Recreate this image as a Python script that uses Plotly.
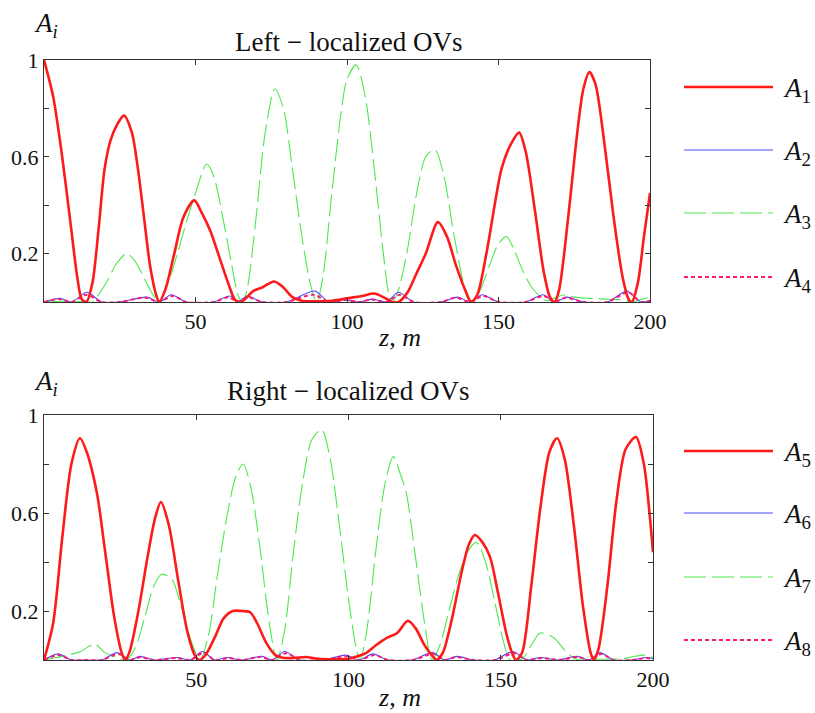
import plotly.graph_objects as go

# ---------------- data ----------------
z_a1 = [0, 3, 6, 9, 11, 12.5, 14, 16, 18, 20, 22, 24, 26.4, 29, 31, 33, 35, 37, 38,
        40, 43, 46, 49.6, 52, 55, 58, 61, 63, 65, 67, 69, 72, 76, 79, 82, 85, 90, 95,
        100, 105, 109, 112, 115, 117, 120, 123, 126, 130, 133, 136, 139, 141, 143, 146,
        149, 151, 154, 156.8, 159, 162, 165, 167, 168.5, 170, 173, 176, 178, 180, 182,
        185, 188, 191, 193, 194, 196, 198, 200]
a1 = [1.0, 0.85, 0.6, 0.3, 0.1, 0.01, 0.0, 0.08, 0.3, 0.55, 0.67, 0.73, 0.77, 0.7, 0.55,
      0.35, 0.15, 0.03, 0.0, 0.05, 0.2, 0.35, 0.42, 0.37, 0.29, 0.18, 0.07, 0.01, 0.0,
      0.02, 0.045, 0.06, 0.085, 0.06, 0.02, 0.005, 0.003, 0.005, 0.015, 0.025, 0.035,
      0.02, 0.0, 0.0, 0.04, 0.12, 0.2, 0.33, 0.27, 0.15, 0.05, 0.0, 0.03, 0.2, 0.42,
      0.55, 0.65, 0.70, 0.62, 0.38, 0.12, 0.02, 0.0, 0.05, 0.35, 0.7, 0.88, 0.95, 0.9,
      0.65, 0.35, 0.1, 0.01, 0.0, 0.08, 0.27, 0.45]

z_a2 = [0, 5.3, 9, 14.2, 19, 25, 34, 38, 42, 47, 56, 61.4, 64, 67, 72, 80, 89.4, 94, 99,
        104, 108.6, 113, 117, 122, 131, 136.6, 140.5, 144.6, 150, 159, 164.7, 168.5,
        172.6, 178, 186, 192.4, 197, 200]
a2 = [0, 0.015, 0, 0.04, 0, 0, 0.02, 0, 0.03, 0, 0, 0.025, 0, 0.025, 0, 0, 0.045, 0,
      0.01, 0, 0.012, 0, 0.04, 0, 0, 0.02, 0, 0.03, 0, 0, 0.03, 0, 0.02, 0, 0, 0.045,
      0, 0.005]

z_a3 = [0, 5, 10, 13, 16, 18, 21, 24, 27.3, 30, 33, 36, 38, 41, 44, 47, 50, 53.7, 56,
        59, 62, 64, 65.5, 67, 70, 73, 76.2, 79, 82, 85, 88, 90, 92, 95, 98, 100, 103,
        106, 109, 112, 114, 115, 117, 120, 123, 126, 129, 132, 135, 138, 140, 141.5,
        144, 147, 150, 152.7, 155, 158, 161, 164, 166, 169, 172, 175, 180, 185, 190,
        194, 197, 200]
a3 = [0.0, 0.003, 0.003, 0.0, 0.0, 0.03, 0.09, 0.16, 0.2, 0.17, 0.1, 0.03, 0.0, 0.08,
      0.2, 0.33, 0.45, 0.57, 0.52, 0.35, 0.15, 0.03, 0.0, 0.05, 0.35, 0.7, 0.88, 0.8,
      0.55, 0.28, 0.07, 0.0, 0.1, 0.45, 0.78, 0.92, 0.98, 0.85, 0.55, 0.2, 0.02, 0.0,
      0.05, 0.22, 0.45, 0.6, 0.63, 0.52, 0.3, 0.1, 0.01, 0.0, 0.05, 0.15, 0.24, 0.27,
      0.22, 0.13, 0.06, 0.02, 0.005, 0.02, 0.03, 0.02, 0.015, 0.012, 0.01, 0.0, 0.01,
      0.02]

z_a4 = [0, 5.0, 9, 14.0, 19, 25, 33.5, 38, 42.5, 47, 56, 61.0, 64, 67.5, 72, 80, 89.0,
        94, 99.5, 104, 108.0, 113, 117.5, 122, 131, 136.0, 140.5, 145.0, 150, 159,
        165.0, 168.5, 172.0, 178, 186, 192.8, 197, 200]
a4 = [0, 0.012, 0, 0.03, 0, 0, 0.018, 0, 0.025, 0, 0, 0.02, 0, 0.02, 0, 0, 0.03, 0,
      0.008, 0, 0.01, 0, 0.03, 0, 0, 0.018, 0, 0.025, 0, 0, 0.025, 0, 0.018, 0, 0,
      0.04, 0, 0.005]

z_a5 = [0, 3, 6, 9, 11.8, 14, 17.4, 20, 23, 25.5, 26.6, 28, 31, 34, 36.5, 38.4, 41, 44,
        47, 49.5, 51, 53, 56, 59, 62, 65, 67.7, 70, 73, 76, 78, 82, 86, 90, 95, 100,
        103, 106, 109, 112.6, 116, 119.5, 122, 125, 128, 129, 131, 134, 137, 139.5,
        141.5, 144, 146.5, 149, 152, 154, 155, 157, 160, 163, 166, 168.5, 171, 174,
        177, 179.5, 180.5, 182, 185, 188, 191, 194.4, 197, 199, 200]
a5 = [0.0, 0.15, 0.5, 0.8, 0.905, 0.85, 0.68, 0.45, 0.18, 0.03, 0.0, 0.03, 0.2, 0.42,
      0.58, 0.645, 0.55, 0.33, 0.12, 0.02, 0.0, 0.02, 0.09, 0.17, 0.2, 0.2, 0.195,
      0.15, 0.07, 0.02, 0.01, 0.008, 0.012, 0.005, 0.003, 0.005, 0.015, 0.03, 0.06,
      0.09, 0.11, 0.16, 0.13, 0.06, 0.01, 0.0, 0.03, 0.17, 0.35, 0.47, 0.51, 0.48,
      0.42, 0.28, 0.1, 0.02, 0.0, 0.03, 0.3, 0.62, 0.85, 0.905, 0.82, 0.55, 0.22,
      0.03, 0.0, 0.04, 0.3, 0.65, 0.86, 0.91, 0.8, 0.58, 0.44]

z_a6 = [0, 4.6, 9, 14, 19, 24, 28, 31.5, 36, 43.7, 48, 52, 56, 60, 65, 71.6, 75, 79,
        84, 92, 99, 103.5, 108, 113, 121, 127.6, 131.5, 135.6, 141, 148, 154, 158.5,
        163, 169, 175, 179, 182.6, 187, 193, 198, 200]
a6 = [0, 0.025, 0, 0, 0, 0.03, 0, 0.015, 0, 0.01, 0, 0.035, 0, 0.01, 0, 0.015, 0,
      0.035, 0, 0, 0.02, 0, 0.025, 0, 0, 0.03, 0, 0.015, 0, 0, 0.035, 0, 0.01, 0,
      0.015, 0, 0.03, 0, 0, 0.01, 0.005]

z_a7 = [0, 4, 8, 12, 16.7, 20, 24, 27, 30, 33, 36, 38.7, 42, 45, 48, 50.5, 51.3, 54,
        57, 60, 63, 65.4, 68, 71, 74, 76.5, 79, 82, 85, 88, 91.2, 94, 97, 100, 102.5,
        103.8, 106, 109, 112, 114.7, 117, 119, 122, 125, 127.4, 130, 133, 136, 139,
        142, 145, 148, 151, 153, 157, 160, 163, 167.5, 171, 173.7, 176, 182, 190, 194,
        197, 200]
a7 = [0.0, 0.01, 0.02, 0.035, 0.065, 0.03, 0.01, 0.0, 0.05, 0.17, 0.3, 0.35, 0.33,
      0.22, 0.09, 0.01, 0.0, 0.1, 0.35, 0.58, 0.75, 0.8, 0.7, 0.45, 0.15, 0.0, 0.12,
      0.45, 0.73, 0.9, 0.94, 0.82, 0.55, 0.25, 0.05, 0.0, 0.12, 0.45, 0.72, 0.83,
      0.76, 0.68, 0.42, 0.15, 0.0, 0.06, 0.2, 0.34, 0.44, 0.48, 0.4, 0.24, 0.07, 0.0,
      0.005, 0.06, 0.11, 0.09, 0.04, 0.01, 0.0, 0.003, 0.005, 0.015, 0.02, 0.01]

z_a8 = [0, 4.8, 9, 14, 19, 24.5, 28, 31.8, 36, 43.5, 48, 52.5, 56, 60.5, 65, 71.2, 75,
        79.5, 84, 92, 99.5, 103.5, 108.5, 113, 121, 128, 131.5, 135.2, 141, 148, 154.5,
        158.5, 163.5, 169, 175.5, 179, 183, 187, 193, 198, 200]
a8 = [0, 0.02, 0, 0, 0, 0.025, 0, 0.012, 0, 0.008, 0, 0.03, 0, 0.008, 0, 0.012, 0,
      0.028, 0, 0, 0.015, 0, 0.02, 0, 0, 0.025, 0, 0.012, 0, 0, 0.028, 0, 0.008, 0,
      0.012, 0, 0.025, 0, 0, 0.008, 0.004]

x_ticks = [50, 100, 150, 200]
x_ticklabels = ["50", "100", "150", "200"]
y_ticks = [0.2, 0.6, 1.0]
y_ticklabels = ["0.2", "0.6", "1"]
y_minor_ticks = [0.4, 0.8]

titles = ["Left \u2212 localized OVs", "Right \u2212 localized OVs"]
names_top = ["1", "2", "3", "4"]
names_bot = ["5", "6", "7", "8"]

# ---------------- styles ----------------
RED = "#ff1a1a"
BLUE = "#4d4dff"
GREEN = "#4de84d"
PINK = "#ff1a6e"
styles = [
    dict(color=RED, width=2.6, dash="solid"),
    dict(color=BLUE, width=1.1, dash="solid"),
    dict(color=GREEN, width=1.1, dash="22px,6px"),
    dict(color=PINK, width=2.0, dash="4px,3px"),
]
FONT = "Liberation Serif, Times New Roman, serif"
TXT = "#111111"

W, H = 815, 713
ML, MR, MT, MB = 44, 162, 60, 53
PW = W - ML - MR
PH = H - MT - MB


def px2x(px):
    return (px - ML) / PW


def py2y(py):
    return (H - MB - py) / PH


fig = go.Figure()

series_top = [(z_a1, a1), (z_a2, a2), (z_a3, a3), (z_a4, a4)]
series_bot = [(z_a5, a5), (z_a6, a6), (z_a7, a7), (z_a8, a8)]

# draw order: green, blue, pink, red on top
order = [2, 1, 3, 0]
for series, xa, ya in [(series_top, "x", "y"), (series_bot, "x2", "y2")]:
    for idx in order:
        zz, vv = series[idx]
        st = styles[idx]
        fig.add_trace(go.Scatter(x=zz, y=vv, mode="lines", xaxis=xa, yaxis=ya,
                                 line=dict(color=st["color"], width=st["width"],
                                           dash=st["dash"], shape="spline", smoothing=0.8),
                                 showlegend=False, hoverinfo="skip"))

axis_common = dict(showgrid=False, zeroline=False, showline=True, linecolor="#333333",
                   linewidth=1, mirror="ticks", ticks="inside", ticklen=5,
                   tickcolor="#333333", tickfont=dict(family=FONT, size=22, color=TXT))
yminor = dict(tickmode="array", tickvals=y_minor_ticks, ticks="inside", ticklen=5,
              tickcolor="#333333", showgrid=False)

top_dom = [py2y(302), py2y(60)]
bot_dom = [py2y(660), py2y(415)]

fig.update_layout(
    width=W, height=H,
    margin=dict(l=ML, r=MR, t=MT, b=MB),
    paper_bgcolor="white", plot_bgcolor="white",
    xaxis=dict(range=[0, 200], domain=[0, px2x(650)], anchor="y", tickvals=x_ticks,
               ticktext=x_ticklabels, **axis_common),
    yaxis=dict(range=[0, 1], domain=top_dom, anchor="x", tickvals=y_ticks,
               ticktext=y_ticklabels, minor=yminor, **axis_common),
    xaxis2=dict(range=[0, 200], domain=[0, 1], anchor="y2", tickvals=x_ticks,
                ticktext=x_ticklabels, **axis_common),
    yaxis2=dict(range=[0, 1], domain=bot_dom, anchor="x2", tickvals=y_ticks,
                ticktext=y_ticklabels, minor=yminor, **axis_common),
    showlegend=False,
)

annotations = []
shapes = []

# titles, axis labels
for title, ty in zip(titles, [42, 391]):
    annotations.append(dict(x=px2x(348), y=py2y(ty), xref="paper", yref="paper",
                            text=title, showarrow=False,
                            font=dict(family=FONT, size=27, color=TXT),
                            xanchor="center", yanchor="middle"))
for ay in [25, 383]:
    annotations.append(dict(x=px2x(46), y=py2y(ay), xref="paper", yref="paper",
                            text="<i>A<sub>i</sub></i>", showarrow=False,
                            font=dict(family=FONT, size=27, color=TXT),
                            xanchor="center", yanchor="middle"))
for zy in [337, 697]:
    annotations.append(dict(x=px2x(400), y=py2y(zy), xref="paper", yref="paper",
                            text="<i>z</i>, <i>m</i>", showarrow=False,
                            font=dict(family=FONT, size=26, color=TXT),
                            xanchor="center", yanchor="middle"))

# legends
for names, ys in [(names_top, [87, 150, 213, 277]), (names_bot, [451, 513, 577, 640])]:
    for name, st, ly in zip(names, styles, ys):
        shapes.append(dict(type="line", xref="paper", yref="paper",
                           x0=px2x(684), x1=px2x(773), y0=py2y(ly), y1=py2y(ly),
                           line=dict(color=st["color"], width=st["width"],
                                     dash=st["dash"])))
        annotations.append(dict(x=px2x(781), y=py2y(ly + 3), xref="paper", yref="paper",
                                text="<i>A</i><sub>" + name + "</sub>", showarrow=False,
                                font=dict(family=FONT, size=27, color=TXT),
                                xanchor="left", yanchor="middle"))

fig.update_layout(annotations=annotations, shapes=shapes)

fig.write_html("out.html")
